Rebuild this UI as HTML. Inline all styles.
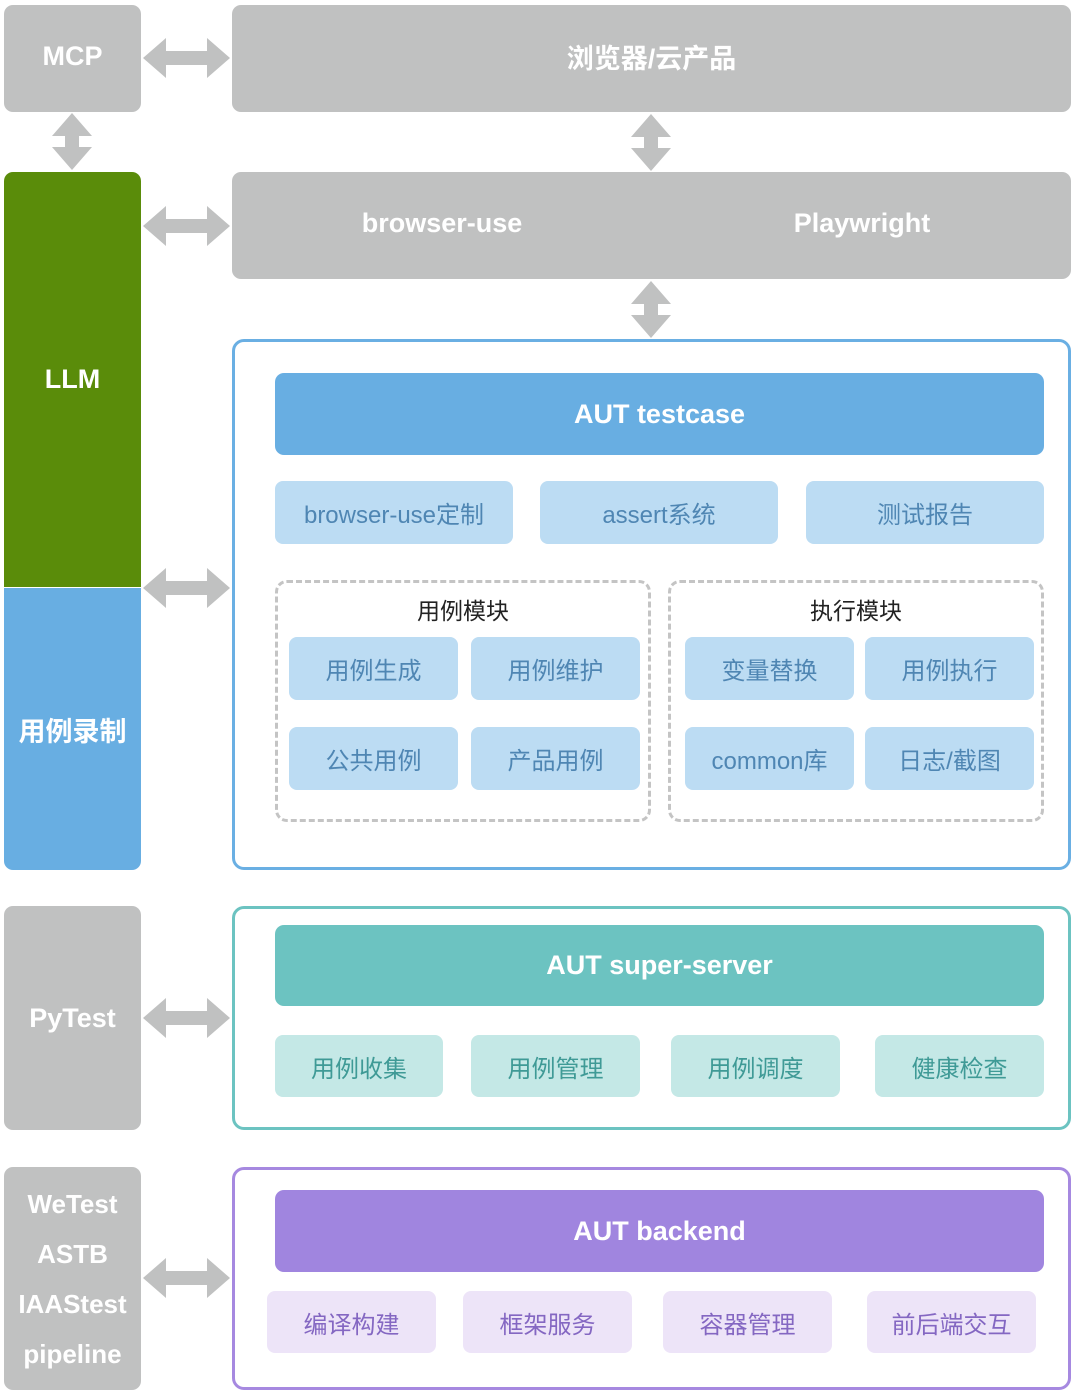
<!DOCTYPE html>
<html><head><meta charset="utf-8"><style>
body{margin:0;width:1080px;height:1395px;background:#fff;position:relative;font-family:"Liberation Sans","Noto Sans CJK SC",sans-serif;overflow:hidden}
.b{position:absolute;display:flex;align-items:center;justify-content:center;box-sizing:border-box;text-align:center}
.g{background:#c0c1c1;color:#fff;font-weight:bold;font-size:27px;border-radius:9px}
.o{position:absolute;box-sizing:border-box;border-radius:12px;border:3px solid}
.h{color:#fff;font-weight:bold;font-size:27px;border-radius:9px}
.lb{background:#bcdcf3;color:#4f86b3;font-size:24px;border-radius:8px}
.lt{background:#c4e8e6;color:#3f9a96;font-size:24px;border-radius:8px}
.lp{background:#ede4f8;color:#8467c2;font-size:24px;border-radius:8px}
.d{position:absolute;box-sizing:border-box;border:3px dashed #c4c4c4;border-radius:12px}
.t{position:absolute;font-size:23px;color:#222;text-align:center}
svg{position:absolute;left:0;top:0}
.s{position:absolute;width:300px;text-align:center;color:#fff;font-weight:bold;font-size:27px;top:208px}
</style></head><body>
<div class="b g" style="left:4px;top:5px;width:137px;height:107px;padding-bottom:4px">MCP</div>
<div class="b g" style="left:232px;top:5px;width:839px;height:107px;padding-bottom:4px">浏览器/云产品</div>
<div class="b h" style="left:4px;top:172px;width:137px;height:415px;background:#5a8c0a;border-radius:9px 9px 0 0">LLM</div>
<div class="b h" style="left:4px;top:588px;width:137px;height:282px;background:#68aee2;border-radius:0 0 9px 9px">用例录制</div>
<div class="b g" style="left:232px;top:172px;width:839px;height:107px"></div>
<div class="s" style="left:292px">browser-use</div>
<div class="s" style="left:712px">Playwright</div>

<div class="o" style="left:232px;top:339px;width:839px;height:531px;border-color:#6aafe3"></div>
<div class="b h" style="left:275px;top:373px;width:769px;height:82px;background:#68aee2">AUT testcase</div>
<div class="b lb" style="left:275px;top:481px;width:238px;height:63px">browser-use定制</div>
<div class="b lb" style="left:540px;top:481px;width:238px;height:63px">assert系统</div>
<div class="b lb" style="left:806px;top:481px;width:238px;height:63px">测试报告</div>
<div class="d" style="left:275px;top:580px;width:376px;height:242px"></div>
<div class="d" style="left:668px;top:580px;width:376px;height:242px"></div>
<div class="t" style="left:275px;top:592px;width:376px">用例模块</div>
<div class="t" style="left:668px;top:592px;width:376px">执行模块</div>
<div class="b lb" style="left:289px;top:637px;width:169px;height:63px">用例生成</div>
<div class="b lb" style="left:471px;top:637px;width:169px;height:63px">用例维护</div>
<div class="b lb" style="left:289px;top:727px;width:169px;height:63px">公共用例</div>
<div class="b lb" style="left:471px;top:727px;width:169px;height:63px">产品用例</div>
<div class="b lb" style="left:685px;top:637px;width:169px;height:63px">变量替换</div>
<div class="b lb" style="left:865px;top:637px;width:169px;height:63px">用例执行</div>
<div class="b lb" style="left:685px;top:727px;width:169px;height:63px">common库</div>
<div class="b lb" style="left:865px;top:727px;width:169px;height:63px">日志/截图</div>

<div class="b g" style="left:4px;top:906px;width:137px;height:224px">PyTest</div>
<div class="o" style="left:232px;top:906px;width:839px;height:224px;border-color:#6cc3c1"></div>
<div class="b h" style="left:275px;top:925px;width:769px;height:81px;background:#6cc3c1">AUT super-server</div>
<div class="b lt" style="left:275px;top:1035px;width:168px;height:62px">用例收集</div>
<div class="b lt" style="left:471px;top:1035px;width:169px;height:62px">用例管理</div>
<div class="b lt" style="left:671px;top:1035px;width:169px;height:62px">用例调度</div>
<div class="b lt" style="left:875px;top:1035px;width:169px;height:62px">健康检查</div>

<div class="b g" style="left:4px;top:1167px;width:137px;height:223px;flex-direction:column;line-height:50px;font-size:26px">WeTest<br>ASTB<br>IAAStest<br>pipeline</div>
<div class="o" style="left:232px;top:1167px;width:839px;height:223px;border-color:#a689e0"></div>
<div class="b h" style="left:275px;top:1190px;width:769px;height:82px;background:#a085df">AUT backend</div>
<div class="b lp" style="left:267px;top:1291px;width:169px;height:62px">编译构建</div>
<div class="b lp" style="left:463px;top:1291px;width:169px;height:62px">框架服务</div>
<div class="b lp" style="left:663px;top:1291px;width:169px;height:62px">容器管理</div>
<div class="b lp" style="left:867px;top:1291px;width:169px;height:62px">前后端交互</div>

<svg width="1080" height="1395">
<defs>
<polygon id="ha" points="0,0 23,-20 23,-7 64,-7 64,-20 87,0 64,20 64,7 23,7 23,20" fill="#c0c1c1"/>
<polygon id="va" points="0,0 20,23 7,23 7,34 20,34 0,57 -20,34 -7,34 -7,23 -20,23" fill="#c0c1c1"/>
</defs>
<use href="#ha" x="143" y="58"/>
<use href="#ha" x="143" y="226"/>
<use href="#ha" x="143" y="588"/>
<use href="#ha" x="143" y="1018"/>
<use href="#ha" x="143" y="1278"/>
<use href="#va" x="72" y="113"/>
<use href="#va" x="651" y="114"/>
<use href="#va" x="651" y="281"/>
</svg>
</body></html>
